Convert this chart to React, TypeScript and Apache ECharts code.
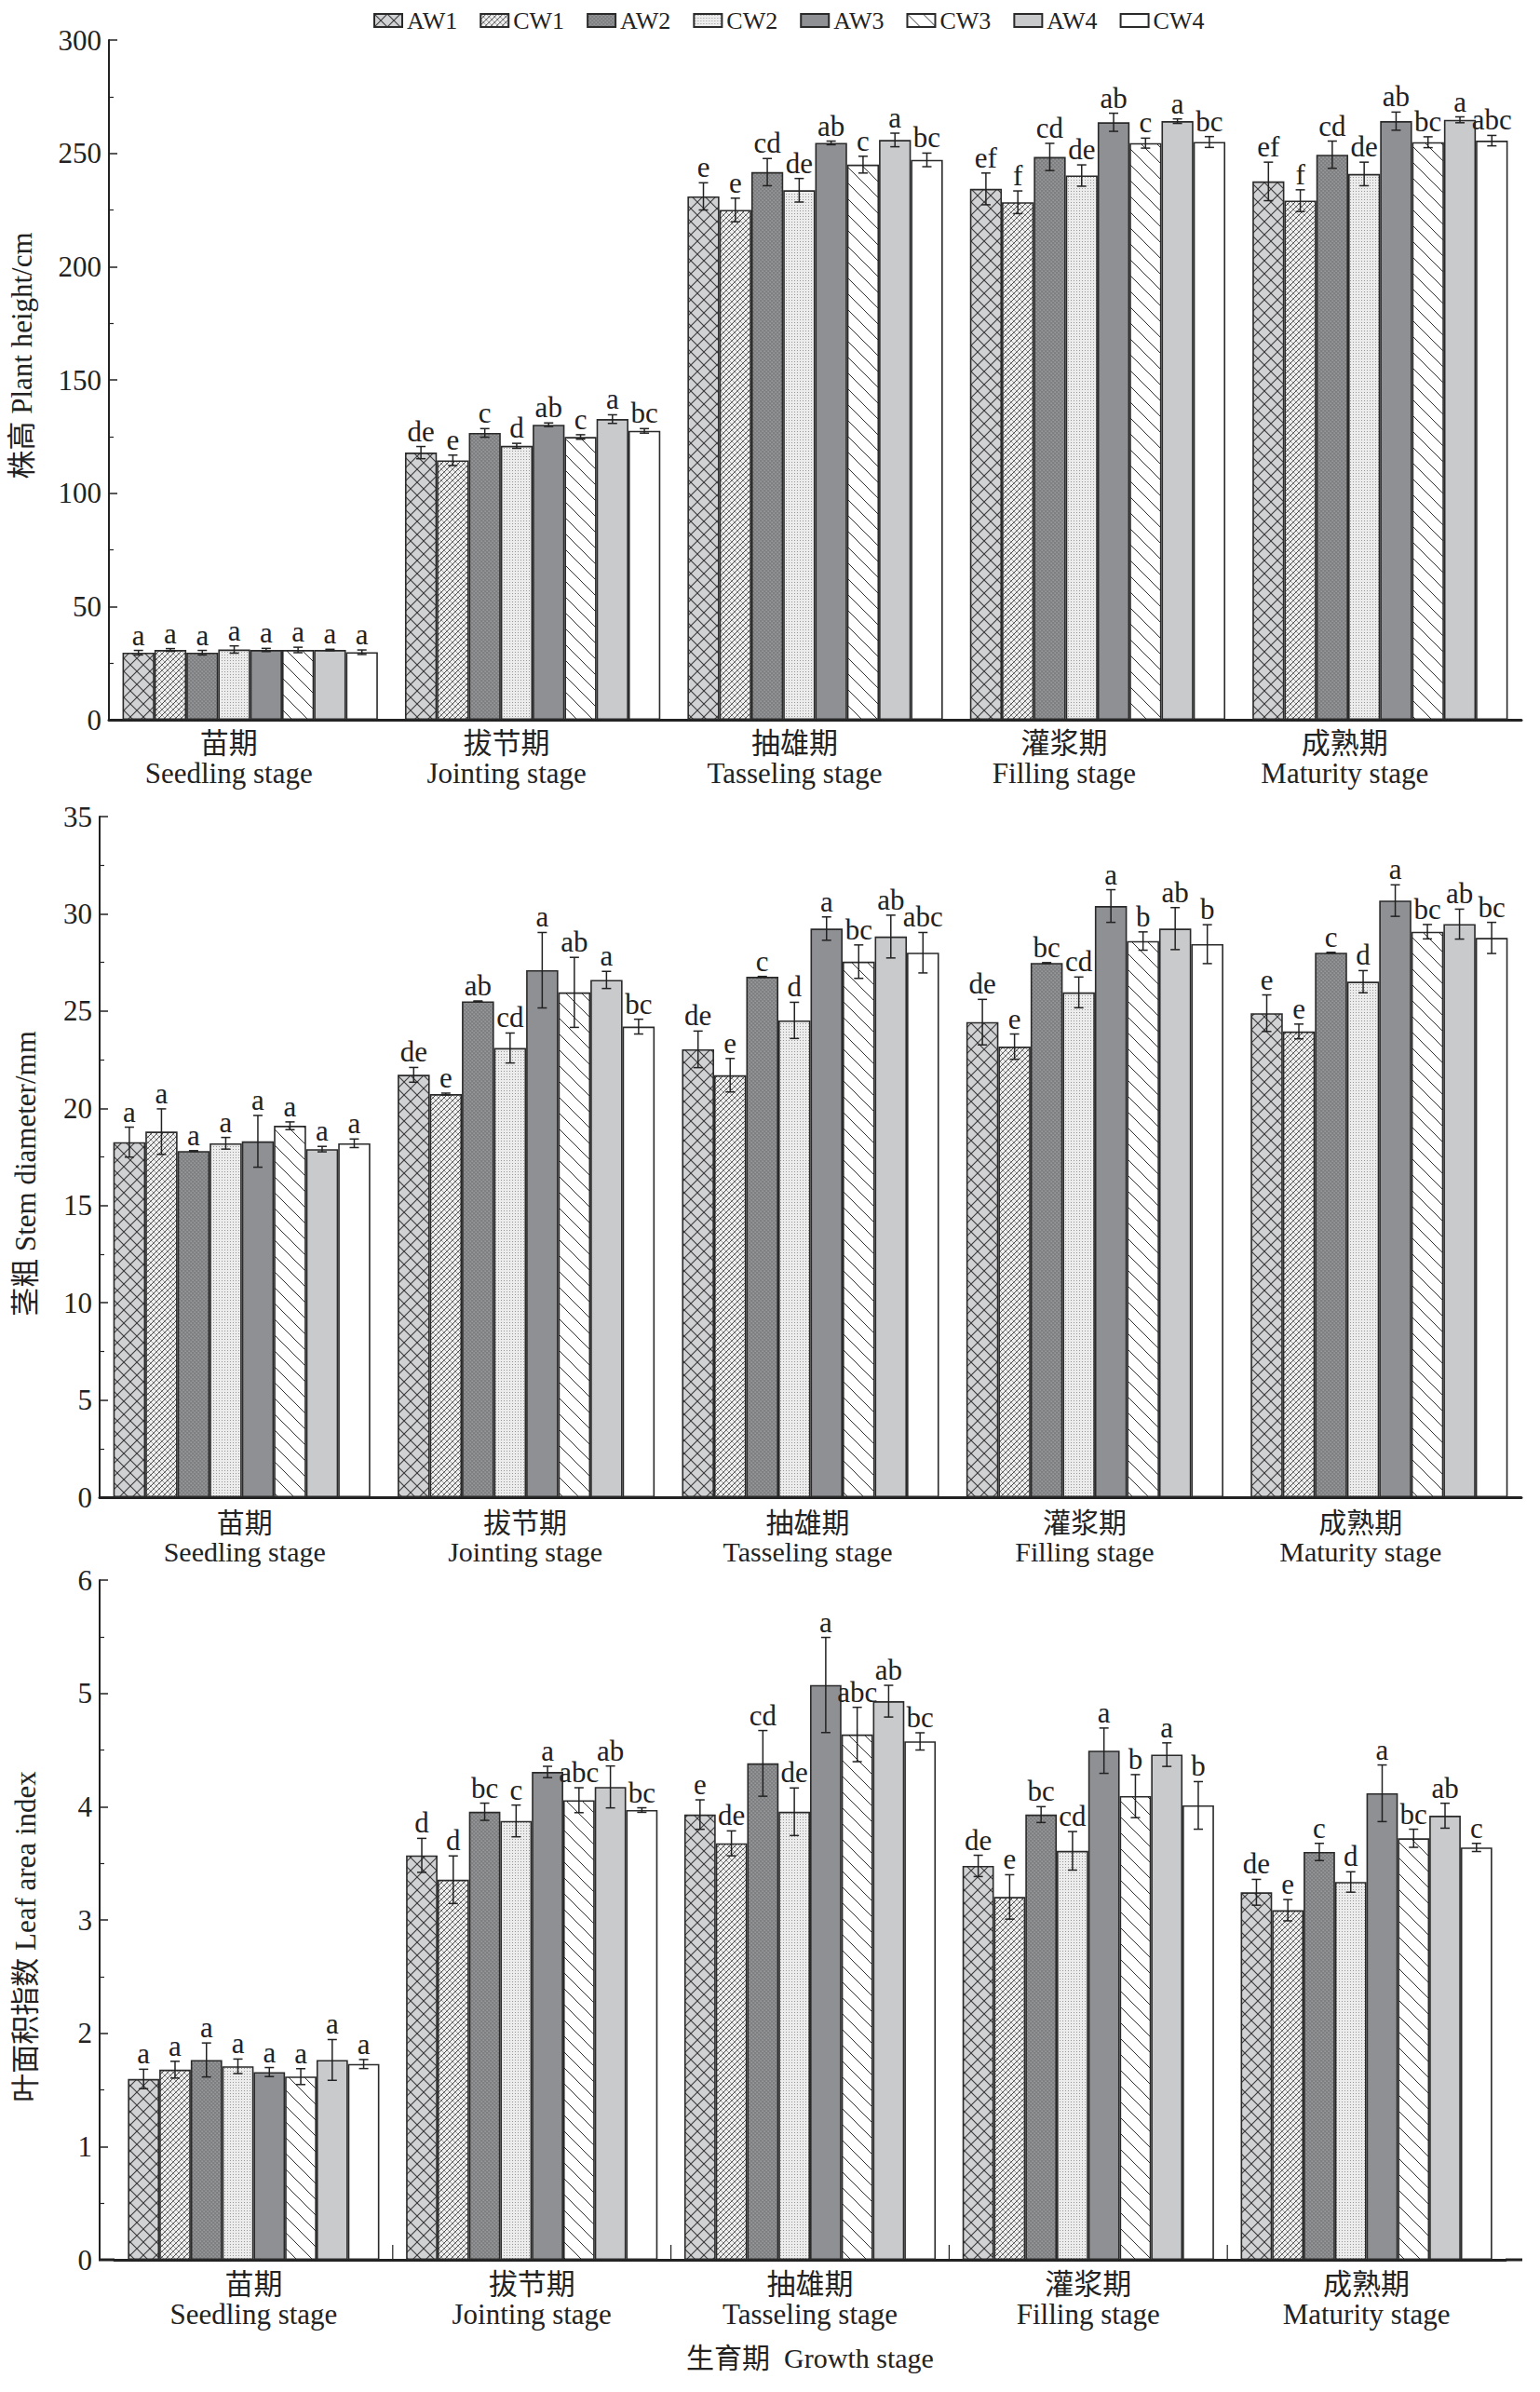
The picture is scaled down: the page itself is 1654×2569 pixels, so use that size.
import React, { useEffect, useRef } from "react";
import * as echarts from "echarts";

// ---------- data ----------
const stages = [
  "苗期\nSeedling stage",
  "拔节期\nJointing stage",
  "抽雄期\nTasseling stage",
  "灌浆期\nFilling stage",
  "成熟期\nMaturity stage",
];
const treatments = ["AW1", "CW1", "AW2", "CW2", "AW3", "CW3", "AW4", "CW4"];

// Plant height (cm): rows = treatments, cols = stages
const heightMean = [
  [29.6, 117.9, 231.0, 234.3, 237.6],
  [30.8, 114.5, 225.0, 228.4, 229.1],
  [29.6, 126.6, 241.7, 248.4, 249.4],
  [31.0, 120.9, 233.7, 240.2, 240.9],
  [30.8, 130.2, 254.6, 263.7, 264.2],
  [30.8, 124.8, 245.0, 254.5, 254.9],
  [30.8, 132.7, 255.9, 264.2, 264.8],
  [29.8, 127.5, 247.1, 255.0, 255.6],
];
const heightSD = [
  [1.0, 2.7, 6.0, 7.0, 8.5],
  [0.6, 2.3, 5.2, 5.0, 4.8],
  [1.0, 1.9, 6.0, 6.0, 6.0],
  [1.6, 1.1, 5.2, 4.7, 5.2],
  [0.7, 0.8, 0.8, 4.0, 4.0],
  [1.2, 1.0, 3.7, 2.2, 2.4],
  [0.3, 1.9, 3.0, 1.0, 1.3],
  [1.0, 1.0, 3.0, 2.4, 2.3],
];
const heightLetters = [
  ["a", "de", "e", "ef", "ef"],
  ["a", "e", "e", "f", "f"],
  ["a", "c", "cd", "cd", "cd"],
  ["a", "d", "de", "de", "de"],
  ["a", "ab", "ab", "ab", "ab"],
  ["a", "c", "c", "c", "bc"],
  ["a", "a", "a", "a", "a"],
  ["a", "bc", "bc", "bc", "abc"],
];

// Stem diameter (mm)
const stemMean = [
  [18.26, 21.72, 23.03, 24.43, 24.89],
  [18.8, 20.73, 21.7, 23.17, 23.95],
  [17.8, 25.5, 26.76, 27.47, 28.0],
  [18.2, 23.1, 24.52, 25.96, 26.51],
  [18.3, 27.1, 29.24, 30.4, 30.68],
  [19.1, 25.96, 27.54, 28.6, 29.08],
  [17.9, 26.6, 28.83, 29.24, 29.47],
  [18.2, 24.2, 28.0, 28.44, 28.76],
];
const stemSD = [
  [0.77, 0.38, 0.94, 1.17, 0.94],
  [1.17, 0.05, 0.86, 0.65, 0.38],
  [0.02, 0.02, 0.02, 0.02, 0.02],
  [0.3, 0.77, 0.93, 0.79, 0.57],
  [1.33, 1.94, 0.6, 0.84, 0.81],
  [0.2, 1.8, 0.86, 0.47, 0.37],
  [0.14, 0.44, 1.1, 1.08, 0.77],
  [0.22, 0.38, 1.04, 1.0, 0.8],
];
const stemLetters = [
  ["a", "de", "de", "de", "e"],
  ["a", "e", "e", "e", "e"],
  ["a", "ab", "c", "bc", "c"],
  ["a", "cd", "d", "cd", "d"],
  ["a", "a", "a", "a", "a"],
  ["a", "ab", "bc", "b", "bc"],
  ["a", "a", "ab", "ab", "ab"],
  ["a", "bc", "abc", "b", "bc"],
];

// Leaf area index
const laiMean = [
  [1.596, 3.57, 3.93, 3.477, 3.244],
  [1.678, 3.355, 3.676, 3.203, 3.086],
  [1.764, 3.955, 4.382, 3.93, 3.6],
  [1.708, 3.874, 3.955, 3.61, 3.335],
  [1.657, 4.306, 5.074, 4.494, 4.118],
  [1.617, 4.057, 4.637, 4.093, 3.721],
  [1.764, 4.174, 4.931, 4.459, 3.92],
  [1.728, 3.97, 4.576, 4.011, 3.64],
];
const laiSD = [
  [0.086, 0.15, 0.13, 0.094, 0.114],
  [0.074, 0.21, 0.11, 0.196, 0.094],
  [0.15, 0.076, 0.29, 0.07, 0.076],
  [0.064, 0.14, 0.21, 0.17, 0.09],
  [0.04, 0.05, 0.42, 0.2, 0.25],
  [0.07, 0.11, 0.24, 0.19, 0.08],
  [0.18, 0.185, 0.14, 0.104, 0.11],
  [0.04, 0.02, 0.076, 0.21, 0.036],
];
const laiLetters = [
  ["a", "d", "e", "de", "de"],
  ["a", "d", "de", "e", "e"],
  ["a", "bc", "cd", "bc", "c"],
  ["a", "c", "de", "cd", "d"],
  ["a", "a", "a", "a", "a"],
  ["a", "abc", "abc", "b", "bc"],
  ["a", "ab", "ab", "a", "ab"],
  ["a", "bc", "bc", "b", "c"],
];

// axis ranges [min, max, interval]
const heightRange = [0, 300, 50];
const stemRange = [0, 35, 5];
const laiRange = [0, 6, 1];

const yNames = ["株高 Plant height/cm", "茎粗 Stem diameter/mm", "叶面积指数 Leaf area index"];
const xName = "生育期  Growth stage";

// ---------- styling ----------
const SERIF = "'Liberation Serif', 'Times New Roman', 'Noto Sans CJK SC', serif";
const INK = "#222222";
const GAP = 0.096;

function tile(kind: string) {
  const c = document.createElement("canvas");
  let s = 8;
  if (kind === "cross") s = 14;
  if (kind === "fine") s = 6;
  if (kind === "dotDark") s = 4;
  if (kind === "dotLight") s = 3;
  if (kind === "diag") s = 17;
  c.width = s;
  c.height = s;
  const g = c.getContext("2d") as CanvasRenderingContext2D;
  const line = (x1: number, y1: number, x2: number, y2: number, col: string, w: number) => {
    g.strokeStyle = col;
    g.lineWidth = w;
    g.beginPath();
    g.moveTo(x1, y1);
    g.lineTo(x2, y2);
    g.stroke();
  };
  if (kind === "cross") {
    g.fillStyle = "#d1d2d4";
    g.fillRect(0, 0, s, s);
    for (const o of [-s, 0, s]) {
      line(o, 0, o + s, s, "#3a3a3a", 1.1);
      line(o + s, 0, o, s, "#3a3a3a", 1.1);
    }
  } else if (kind === "fine") {
    g.fillStyle = "#efefef";
    g.fillRect(0, 0, s, s);
    for (const o of [-s, 0, s]) {
      line(o, s, o + s, 0, "#4a4a4a", 1);
      line(o, 0, o + s, s, "#8a8a8a", 0.8);
    }
  } else if (kind === "dotDark") {
    g.fillStyle = "#7e7f81";
    g.fillRect(0, 0, s, s);
    g.fillStyle = "#b3b3b5";
    g.fillRect(0.5, 0.5, 1.2, 1.2);
    g.fillRect(2.5, 2.5, 1.2, 1.2);
  } else if (kind === "dotLight") {
    g.fillStyle = "#ececec";
    g.fillRect(0, 0, s, s);
    g.fillStyle = "#979797";
    g.fillRect(1, 1, 1, 1);
  } else if (kind === "diag") {
    g.fillStyle = "#ffffff";
    g.fillRect(0, 0, s, s);
    for (const o of [-s, 0, s]) line(o, 0, o + s, s, "#333333", 1);
  }
  return { image: c, repeat: "repeat", imageWidth: s, imageHeight: s };
}

function makeFills(): any[] {
  return [
    tile("cross"),
    tile("fine"),
    tile("dotDark"),
    tile("dotLight"),
    "#8f9094",
    tile("diag"),
    "#c9cacc",
    "#ffffff",
  ];
}

function barSeries(g: number, means: number[][], fills: any[]) {
  return means.map((row, k) => ({
    type: "bar",
    name: treatments[k],
    xAxisIndex: g,
    yAxisIndex: g,
    data: row,
    barGap: "0%",
    barCategoryGap: GAP * 100 + "%",
    silent: true,
    itemStyle: { color: fills[k], borderColor: "#2a2a2a", borderWidth: 1.6 },
    emphasis: { disabled: true },
  }));
}

function errorSeries(g: number, means: number[][], sds: number[][], letters: string[][], ticks: boolean) {
  const items: number[][] = [];
  const texts: string[] = [];
  means.forEach((row, k) =>
    row.forEach((v, c) => {
      items.push([c, v, sds[k][c], k]);
      texts.push(letters[k][c]);
    })
  );
  return {
    type: "custom",
    name: "err" + g,
    xAxisIndex: g,
    yAxisIndex: g,
    z: 10,
    silent: true,
    clip: false,
    encode: { x: 0, y: 1 },
    data: items,
    renderItem: (params: any, api: any) => {
      const c = api.value(0);
      const v = api.value(1);
      const sd = api.value(2);
      const k = api.value(3);
      const band = api.size([1, 0])[0];
      const used = band * (1 - GAP);
      const bw = used / 8;
      const center = api.coord([c, v]);
      const x = center[0] - used / 2 + bw * (k + 0.5);
      const yTop = api.coord([c, v + sd])[1];
      const yBot = api.coord([c, v - sd])[1];
      const cap = 5;
      const st = { stroke: INK, lineWidth: 1.5 };
      const children: any[] = [
        { type: "line", shape: { x1: x, y1: yTop, x2: x, y2: yBot }, style: st },
        { type: "line", shape: { x1: x - cap, y1: yTop, x2: x + cap, y2: yTop }, style: st },
        { type: "line", shape: { x1: x - cap, y1: yBot, x2: x + cap, y2: yBot }, style: st },
        {
          type: "text",
          x: x,
          y: yTop - 1,
          style: {
            text: texts[params.dataIndex],
            align: "center",
            verticalAlign: "bottom",
            fontSize: 31,
            fontFamily: SERIF,
            fill: INK,
          },
        },
      ];
      if (ticks && k === 0 && c > 0) {
        const base = api.coord([c, 0]);
        const bx = base[0] - band / 2;
        children.push({
          type: "line",
          shape: { x1: bx, y1: base[1], x2: bx, y2: base[1] - 16 },
          style: { stroke: INK, lineWidth: 1.2 },
        });
      }
      return { type: "group", children };
    },
  };
}

function labelRich(shifts: number[], fontSize: number, lineHeight: number) {
  const rich: any = {};
  shifts.forEach((s, i) => {
    rich["l" + i] = {
      fontSize: fontSize,
      fontFamily: SERIF,
      color: INK,
      lineHeight: lineHeight,
      padding: s < 0 ? [0, -2 * s, 0, 0] : [0, 0, 0, 2 * s],
    };
  });
  return rich;
}

function xAxis(g: number, margin: number, fontSize: number, lineHeight: number, shifts: number[]) {
  return {
    type: "category",
    gridIndex: g,
    data: stages,
    axisLine: { lineStyle: { color: INK, width: 3 } },
    axisTick: { show: false },
    axisLabel: {
      interval: 0,
      margin: margin,
      formatter: (v: string, i: number) =>
        v
          .split("\n")
          .map((s) => "{l" + i + "|" + s + "}")
          .join("\n"),
      rich: labelRich(shifts, fontSize, lineHeight),
    },
    splitLine: { show: false },
  };
}

function yAxis(g: number, range: number[], name: string, gap: number, shift: number, offset: number) {
  return {
    type: "value",
    gridIndex: g,
    min: range[0],
    max: range[1],
    interval: range[2],
    offset: offset,
    name: name,
    nameLocation: "middle",
    nameGap: gap,
    nameTextStyle: {
      fontSize: 31,
      fontFamily: SERIF,
      color: INK,
      padding: shift < 0 ? [0, 0, 0, -2 * shift] : [0, 2 * shift, 0, 0],
    },
    axisLine: { show: true, lineStyle: { color: INK, width: 2 } },
    axisTick: { show: true, inside: true, length: 9, lineStyle: { color: INK, width: 1.5 } },
    minorTick: { show: true, splitNumber: 2, length: 5, lineStyle: { color: INK, width: 1.2 } },
    splitLine: { show: false },
    minorSplitLine: { show: false },
    axisLabel: { fontSize: 31, fontFamily: SERIF, color: INK, margin: 8 },
  };
}

export default function App() {
  const ref = useRef<HTMLDivElement>(null);
  useEffect(() => {
    if (!ref.current) return;
    const chart = echarts.init(ref.current, null, { renderer: "svg" });
    const fills = makeFills();
    const option: any = {
      animation: false,
      backgroundColor: "#ffffff",
      legend: {
        data: treatments,
        left: 396,
        top: 4,
        icon: "rect",
        itemWidth: 30,
        itemHeight: 14,
        itemGap: 24,
        selectedMode: false,
        textStyle: { fontSize: 26, fontFamily: SERIF, color: INK },
      },
      grid: [
        { left: 107, width: 1527, top: 43, height: 730 },
        { left: 107, width: 1527, top: 877, height: 731 },
        { left: 123, width: 1494, top: 1697, height: 730 },
      ],
      xAxis: [
        xAxis(0, 9, 31, 32, [-23, -28, -22, -36, -38]),
        xAxis(1, 12, 30, 31, [3, -1, -3, -11, -20]),
        {
          ...xAxis(2, 10, 31, 32, [0, 0, 0, 0, 0]),
          name: xName,
          nameLocation: "middle",
          nameGap: 90,
          nameTextStyle: { fontSize: 30, fontFamily: SERIF, color: INK },
        },
      ],
      yAxis: [
        yAxis(0, heightRange, yNames[0], 78, -26, 0),
        yAxis(1, stemRange, yNames[1], 64, 18, 0),
        yAxis(2, laiRange, yNames[2], 64, 18, 16),
      ],
      graphic: [
        { type: "line", shape: { x1: 106, y1: 2427, x2: 123, y2: 2427 }, style: { stroke: INK, lineWidth: 3 } },
        { type: "line", shape: { x1: 1617, y1: 2427, x2: 1635, y2: 2427 }, style: { stroke: INK, lineWidth: 3 } },
      ],
      series: [
        ...barSeries(0, heightMean, fills),
        ...barSeries(1, stemMean, fills),
        ...barSeries(2, laiMean, fills),
        errorSeries(0, heightMean, heightSD, heightLetters, false),
        errorSeries(1, stemMean, stemSD, stemLetters, false),
        errorSeries(2, laiMean, laiSD, laiLetters, true),
      ],
    };
    chart.setOption(option);
    return () => chart.dispose();
  }, []);
  return (
    <div
      ref={ref}
      style={{ position: "absolute", left: 0, top: 0, width: 1654, height: 2569, background: "#fff" }}
    />
  );
}
